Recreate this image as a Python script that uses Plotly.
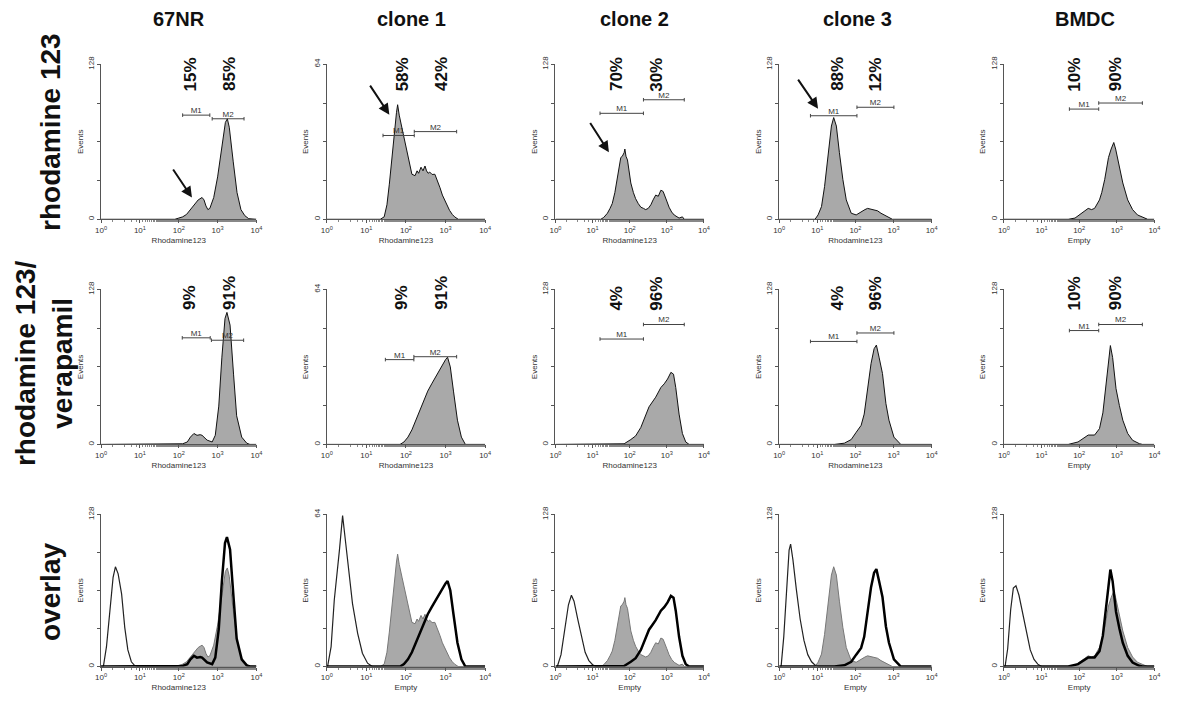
import plotly.graph_objects as go

FONT = "Liberation Sans, Arial, sans-serif"

# ---------------- labels ----------------
COLUMNS = ["67NR", "clone 1", "clone 2", "clone 3", "BMDC"]
ROW_LABELS = ["rhodamine 123", "rhodamine 123/<br>verapamil", "overlay"]
YMAX = [128, 64, 128, 128, 128]
XTITLES = [
    ["Rhodamine123", "Rhodamine123", "Rhodamine123", "Rhodamine123", "Empty"],
    ["Rhodamine123", "Rhodamine123", "Rhodamine123", "Rhodamine123", "Empty"],
    ["Rhodamine123", "Empty", "Empty", "Empty", "Empty"],
]
XTICK_VALS = [1, 10, 100, 1000, 10000]
XTICK_TEXT = ["10<sup>0</sup>", "10<sup>1</sup>", "10<sup>2</sup>", "10<sup>3</sup>", "10<sup>4</sup>"]

# ---------------- histogram data (log10 fluorescence, events) ----------------
# rhodamine 123 alone
RHO_67NR_X = [0, 1.9, 2.0, 2.1, 2.2, 2.3, 2.4, 2.5, 2.6, 2.65, 2.7, 2.75, 2.8, 2.9, 3.0, 3.1, 3.2, 3.25, 3.3, 3.4, 3.5, 3.6, 3.7, 3.8, 4]
RHO_67NR_Y = [0, 0, 1, 2, 4, 8, 12, 16, 18, 16, 11, 8, 9, 18, 35, 58, 80, 83, 76, 48, 22, 8, 3, 0.5, 0]
RHO_C1_X = [0, 1.35, 1.45, 1.52, 1.58, 1.63, 1.67, 1.72, 1.76, 1.79, 1.83, 1.9, 1.97, 2.03, 2.1, 2.15, 2.23, 2.28, 2.32, 2.38, 2.43, 2.48, 2.52, 2.56, 2.6, 2.66, 2.73, 2.8, 2.86, 2.92, 2.98, 3.05, 3.1, 3.17, 3.23, 3.32, 4]
RHO_C1_Y = [0, 0, 1, 6, 14.5, 23, 31, 40, 44, 47.3, 43, 37.6, 32, 28, 22, 18.6, 18, 20, 19, 21.5, 20, 22, 20, 19, 19.5, 18.5, 18.6, 16, 13, 10, 7.7, 5, 3.7, 2, 1, 0, 0]
RHO_C2_X = [0, 1.22, 1.3, 1.4, 1.47, 1.53, 1.6, 1.65, 1.7, 1.76, 1.8, 1.85, 1.87, 1.9, 1.94, 2.0, 2.03, 2.1, 2.16, 2.23, 2.3, 2.37, 2.43, 2.5, 2.57, 2.63, 2.7, 2.77, 2.84, 2.9, 2.93, 3.0, 3.06, 3.13, 3.2, 3.27, 3.33, 3.42, 3.47, 4]
RHO_C2_Y = [0, 0, 1.5, 5, 9, 13, 22, 32, 42, 51, 52, 55, 58, 52, 49, 38, 30, 22, 17, 13, 10, 9, 8, 9, 12, 16, 20, 19, 24, 23, 21, 15, 10, 6, 3.5, 2, 1, 2, 0, 0]
RHO_C3_X = [0, 0.94, 1.02, 1.11, 1.19, 1.28, 1.37, 1.43, 1.5, 1.58, 1.67, 1.76, 1.89, 2.02, 2.15, 2.25, 2.32, 2.4, 2.49, 2.58, 2.67, 2.76, 2.84, 2.97, 4]
RHO_C3_Y = [0, 0, 3.6, 10.5, 27, 52, 77, 84, 77, 55, 33, 16, 5, 3.6, 6.4, 8, 9, 8.5, 8, 7, 5, 3.5, 2, 0, 0]
RHO_BM_X = [0, 1.71, 1.89, 2.06, 2.15, 2.24, 2.33, 2.41, 2.54, 2.6, 2.68, 2.78, 2.85, 2.92, 2.97, 3.03, 3.1, 3.16, 3.29, 3.42, 3.55, 3.73, 3.82, 4]
RHO_BM_Y = [0, 0, 1, 5, 7, 9, 8, 9, 16, 22, 33, 51, 58, 63.4, 58, 49.5, 40, 30, 16, 8, 3.6, 1, 0, 0]

# rhodamine 123 + verapamil
VER_67NR_X = [0, 1.97, 2.1, 2.22, 2.3, 2.39, 2.47, 2.55, 2.6, 2.73, 2.86, 2.94, 3.03, 3.11, 3.19, 3.24, 3.32, 3.41, 3.49, 3.62, 3.75, 3.83, 4]
VER_67NR_Y = [0, 0, 0.5, 2, 6, 9, 7.5, 8, 7.5, 3.5, 2, 7.5, 31.6, 72, 104, 109, 98.5, 58, 23.6, 6, 1, 0, 0]
VER_C1_X = [0, 1.85, 1.95, 2.05, 2.15, 2.25, 2.35, 2.45, 2.55, 2.65, 2.75, 2.85, 2.95, 3.0, 3.05, 3.12, 3.2, 3.3, 3.4, 3.5, 4]
VER_C1_Y = [0, 0, 1, 3, 6, 10, 14, 18, 22, 25, 28, 31, 34, 35, 36, 32, 22, 10, 3, 0, 0]
VER_C2_X = [0, 1.49, 1.85, 2.03, 2.16, 2.3, 2.43, 2.52, 2.61, 2.7, 2.84, 2.93, 3.02, 3.11, 3.18, 3.24, 3.33, 3.42, 3.51, 3.6, 4]
VER_C2_Y = [0, 0, 0.5, 4, 7, 14, 25, 31, 35, 39, 47, 50, 54, 59.5, 58, 47, 25, 9, 2, 0, 0]
VER_C3_X = [0, 1.45, 1.71, 1.89, 2.02, 2.15, 2.23, 2.32, 2.41, 2.49, 2.55, 2.62, 2.71, 2.8, 2.88, 3.01, 3.14, 3.19, 4]
VER_C3_Y = [0, 0, 1, 4, 10, 15.7, 25, 44.7, 66.8, 79, 82, 72, 58.5, 33.7, 20, 6, 1, 0, 0]
VER_BM_X = [0, 1.71, 1.97, 2.1, 2.24, 2.41, 2.54, 2.63, 2.72, 2.79, 2.83, 2.89, 2.98, 3.07, 3.16, 3.29, 3.42, 3.6, 3.68, 4]
VER_BM_Y = [0, 0, 2, 5, 7.7, 7.7, 13, 26, 52, 74.5, 81.6, 71.7, 46, 32, 20, 9, 3.4, 0.6, 0, 0]

# unstained controls (overlay only)
UNS_67NR_X = [0, 0.06, 0.14, 0.23, 0.31, 0.37, 0.44, 0.53, 0.61, 0.69, 0.78, 0.86, 0.95, 4]
UNS_67NR_Y = [0, 0, 16.7, 50, 75, 84, 78, 61, 33, 14, 4, 1, 0, 0]
UNS_C1_X = [0, 0.02, 0.11, 0.19, 0.32, 0.4, 0.48, 0.57, 0.65, 0.78, 0.9, 1.03, 1.15, 4]
UNS_C1_Y = [0, 0, 8.4, 28, 49, 63.5, 51.7, 37.7, 26.5, 14, 5.6, 1.4, 0, 0]
UNS_C2_X = [0, 0.05, 0.15, 0.25, 0.35, 0.43, 0.5, 0.6, 0.7, 0.8, 0.9, 1.0, 1.1, 4]
UNS_C2_Y = [0, 0, 10, 32, 52, 60, 55, 40, 25, 12, 5, 1.5, 0, 0]
UNS_C3_X = [0, 0.05, 0.12, 0.2, 0.26, 0.3, 0.36, 0.45, 0.55, 0.65, 0.75, 0.85, 0.95, 1.05, 4]
UNS_C3_Y = [0, 0, 25, 70, 98, 103, 90, 65, 40, 22, 10, 4, 1, 0, 0]
UNS_BM_X = [0, 0.03, 0.1, 0.18, 0.25, 0.32, 0.4, 0.5, 0.6, 0.7, 0.8, 0.9, 1.0, 4]
UNS_BM_Y = [0, 0, 15, 48, 66, 68, 60, 45, 28, 14, 6, 2, 0, 0]

RHO = [(RHO_67NR_X, RHO_67NR_Y), (RHO_C1_X, RHO_C1_Y), (RHO_C2_X, RHO_C2_Y), (RHO_C3_X, RHO_C3_Y), (RHO_BM_X, RHO_BM_Y)]
VER = [(VER_67NR_X, VER_67NR_Y), (VER_C1_X, VER_C1_Y), (VER_C2_X, VER_C2_Y), (VER_C3_X, VER_C3_Y), (VER_BM_X, VER_BM_Y)]
UNS = [(UNS_67NR_X, UNS_67NR_Y), (UNS_C1_X, UNS_C1_Y), (UNS_C2_X, UNS_C2_Y), (UNS_C3_X, UNS_C3_Y), (UNS_BM_X, UNS_BM_Y)]

# markers M1 / M2: (start log, end log, events level)
M1_ROW1 = [(2.10, 2.80, 86), (1.42, 2.21, 34.6), (1.20, 2.37, 87.5), (0.82, 2.04, 85.5), (1.74, 2.52, 91)]
M2_ROW1 = [(2.86, 3.68, 83), (2.21, 3.28, 36.2), (2.37, 3.47, 98.7), (2.04, 3.01, 92.5), (2.52, 3.68, 96)]
M1_ROW2 = [(2.09, 2.81, 88), (1.48, 2.20, 35), (1.20, 2.37, 87), (0.82, 2.04, 85), (1.74, 2.52, 94)]
M2_ROW2 = [(2.84, 3.67, 86), (2.20, 3.28, 36.2), (2.37, 3.47, 99), (2.04, 3.01, 92), (2.52, 3.68, 99)]

# percentages in each gate
PCT_M1_ROW1 = ["15%", "58%", "70%", "88%", "10%"]
PCT_M2_ROW1 = ["85%", "42%", "30%", "12%", "90%"]
PCT_M1_ROW2 = ["9%", "9%", "4%", "4%", "10%"]
PCT_M2_ROW2 = ["91%", "91%", "96%", "96%", "90%"]
PCT_X_M1 = [2.29, 1.90, 1.65, 1.53, 1.87]
PCT_X_M2 = [3.31, 2.90, 2.72, 2.52, 2.95]

# arrows (row 1): tail (log, events) -> head (log, events)
ARROWS = [((1.83, 42.4), (2.34, 17.9)), ((1.07, 55.8), (1.58, 43.2)),
          ((0.91, 80.7), (1.44, 55.4)), ((0.47, 116.6), (1.02, 91.3)), None]

# ---------------- layout geometry (pixels) ----------------
W, H = 1200, 709
PANEL_X = [(96, 253), (324, 484), (555, 705), (781, 935), (1008, 1160)]
PANEL_Y = [(57, 214), (285, 442), (513, 667)]
COL_TITLE_X = [175, 410, 635, 860, 1090]
ROW_LABEL_Y = [126, 360, 592]
ROW_LABEL_X = [45, 38, 45]

GRAY = "#a9a9a9"
AXC = "#555555"
SMALL = dict(size=8, family=FONT, color="#333333")


def lin(v):
    return [10 ** t for t in v]


fig = go.Figure()
layout = dict(width=W, height=H, margin=dict(l=0, r=0, t=0, b=0), autosize=False,
              paper_bgcolor="white", plot_bgcolor="white", showlegend=False,
              font=dict(family=FONT, color="#222"))
annotations = []

for r in range(3):
    for c in range(5):
        i = r * 5 + c + 1
        xs = "x" if i == 1 else f"x{i}"
        ys = "y" if i == 1 else f"y{i}"
        xk = "xaxis" if i == 1 else f"xaxis{i}"
        yk = "yaxis" if i == 1 else f"yaxis{i}"
        ymax = YMAX[c]
        x0, x1 = PANEL_X[c]
        yt, yb = PANEL_Y[r]
        layout[xk] = dict(domain=[x0 / W, x1 / W], anchor=ys, type="log", range=[0, 4],
                          showgrid=False, zeroline=False, showline=True, linecolor=AXC, linewidth=1,
                          ticks="outside", ticklen=3, tickcolor=AXC,
                          tickvals=XTICK_VALS, ticktext=XTICK_TEXT,
                          tickfont=SMALL,
                          minor=dict(ticks="outside", ticklen=2, tickcolor="#888", showgrid=False),
                          title=dict(text=XTITLES[r][c], font=SMALL, standoff=3))
        layout[yk] = dict(domain=[1 - yb / H, 1 - yt / H], anchor=xs, range=[0, ymax],
                          showgrid=False, zeroline=False, showline=True, linecolor=AXC, linewidth=1,
                          ticks="outside", ticklen=3, tickcolor=AXC,
                          tickvals=[0, ymax], ticktext=["0", str(ymax)], tickangle=-90,
                          minor=dict(tickvals=[ymax / 4, ymax / 2, 3 * ymax / 4], ticks="outside",
                                     ticklen=3, tickcolor=AXC, showgrid=False),
                          tickfont=SMALL,
                          title=dict(text="Events", font=SMALL, standoff=2))

        if r == 0 or r == 1:
            hx, hy = (RHO if r == 0 else VER)[c]
            fig.add_trace(go.Scatter(x=lin(hx), y=hy, xaxis=xs, yaxis=ys, mode="lines",
                                     fill="tozeroy", fillcolor=GRAY,
                                     line=dict(color="#111", width=1), hoverinfo="skip"))
            m1 = (M1_ROW1 if r == 0 else M1_ROW2)[c]
            m2 = (M2_ROW1 if r == 0 else M2_ROW2)[c]
            tk = ymax * 1.8 / (yb - yt)
            mx, my, lx, ly = [], [], [], []
            for (a, b, v) in (m1, m2):
                mx += [10 ** a, 10 ** b, None, 10 ** a, 10 ** a, None, 10 ** b, 10 ** b, None]
                my += [v, v, None, v - tk, v + tk, None, v - tk, v + tk, None]
                lx.append(10 ** ((a + b) / 2))
                ly.append(v)
            fig.add_trace(go.Scatter(x=mx, y=my, xaxis=xs, yaxis=ys, mode="lines",
                                     line=dict(color="#444", width=1), hoverinfo="skip"))
            fig.add_trace(go.Scatter(x=lx, y=ly, xaxis=xs, yaxis=ys, mode="text",
                                     text=["M1", "M2"], textposition="top center",
                                     textfont=SMALL, hoverinfo="skip"))
            p1 = (PCT_M1_ROW1 if r == 0 else PCT_M1_ROW2)[c]
            p2 = (PCT_M2_ROW1 if r == 0 else PCT_M2_ROW2)[c]
            for px, txt in ((PCT_X_M1[c], p1), (PCT_X_M2[c], p2)):
                if r == 0:
                    frac = 0.935
                else:
                    frac = 0.975 if len(txt) == 3 else 0.945
                annotations.append(dict(x=px, y=frac * ymax, xref=xs, yref=ys, text=txt,
                                        textangle=-90, showarrow=False, xanchor="center", yanchor="middle",
                                        font=dict(size=17, family=FONT, color="#111", weight="bold")))
            if r == 0 and ARROWS[c] is not None:
                (tx, ty), (hx_, hy_) = ARROWS[c]
                annotations.append(dict(x=hx_, y=hy_, ax=tx, ay=ty, xref=xs, yref=ys, axref=xs, ayref=ys,
                                        text="", showarrow=True, arrowhead=2, arrowsize=1.1,
                                        arrowwidth=2, arrowcolor="#111"))
        else:
            ux, uy = UNS[c]
            fig.add_trace(go.Scatter(x=lin(ux), y=uy, xaxis=xs, yaxis=ys, mode="lines",
                                     line=dict(color="#222", width=1.2), hoverinfo="skip"))
            gx, gy = RHO[c]
            fig.add_trace(go.Scatter(x=lin(gx), y=gy, xaxis=xs, yaxis=ys, mode="lines",
                                     fill="tozeroy", fillcolor=GRAY,
                                     line=dict(color="#777", width=1), hoverinfo="skip"))
            vx, vy = VER[c]
            fig.add_trace(go.Scatter(x=lin(vx), y=vy, xaxis=xs, yaxis=ys, mode="lines",
                                     line=dict(color="#000", width=2.5), hoverinfo="skip"))

for c, t in enumerate(COLUMNS):
    annotations.append(dict(x=COL_TITLE_X[c] / W, y=1 - 11 / H, xref="paper", yref="paper", text=t,
                            showarrow=False, xanchor="center", yanchor="middle",
                            font=dict(size=20, family=FONT, color="#111", weight="bold")))
for r, t in enumerate(ROW_LABELS):
    annotations.append(dict(x=ROW_LABEL_X[r] / W, y=1 - ROW_LABEL_Y[r] / H, xref="paper", yref="paper", text=t,
                            textangle=-90, showarrow=False, xanchor="center", yanchor="middle",
                            font=dict(size=28, family=FONT, color="#111", weight="bold")))

layout["annotations"] = annotations
fig.update_layout(**layout)
fig.write_html("out.html", config={"displayModeBar": False},
               post_script="document.body.style.margin='0';document.body.style.overflow='hidden';")
